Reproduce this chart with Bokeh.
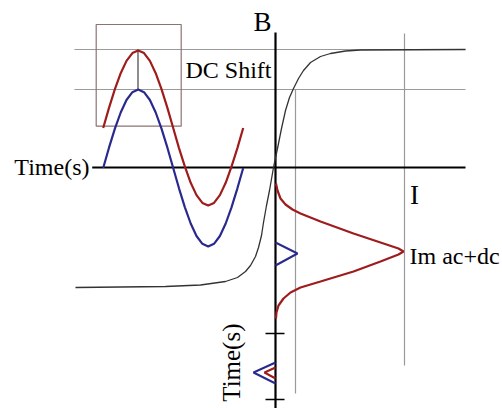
import math
from bokeh.plotting import figure
from bokeh.models import Range1d
from bokeh.core.properties import value
from bokeh.embed import file_html
from bokeh.resources import INLINE

# ---- data (units: diagram units, origin at the crossing of the Time and B axes) ----
# AC drive (blue) and AC+DC drive (red) versus time, left of the B axis
t_drive = [-172.3, -166.5, -160.6, -154.8, -149.0, -143.1, -137.3, -131.5, -125.6,
           -119.8, -114.0, -108.1, -102.3, -96.5, -90.6, -84.8, -79.0, -73.1,
           -67.3, -61.5, -55.6, -49.8, -44.0, -38.1, -32.3]
b_ac = [-0.5, 19.8, 38.8, 55.0, 67.5, 75.3, 78.0, 75.3, 67.5, 55.0, 38.8, 19.8,
        -0.5, -20.8, -39.8, -56.0, -68.5, -76.3, -79.0, -76.3, -68.5, -56.0,
        -39.8, -20.8, -0.5]
b_acdc = [39.5, 59.6, 78.3, 94.3, 106.6, 114.4, 117.0, 114.4, 106.6, 94.3, 78.3,
          59.6, 39.5, 19.4, 0.8, -15.3, -27.6, -35.4, -38.0, -35.4, -27.6, -15.3,
          0.8, 19.4, 39.5]

# B-I magnetisation curve
curve_i = [-200, -155, -110, -75, -50, -38, -30, -25, -20, -17, -14, -12, -9, -6,
           -2, 2, 6, 10, 14, 18, 23, 28, 35, 45, 55, 70, 85, 190]
curve_b = [-120, -119.5, -119, -117.5, -114, -110, -104, -98, -89, -80, -68, -55,
           -38, -23, 0, 19, 39, 57, 70, 79, 89, 97, 105, 111, 114, 116.5, 117.5, 118]

# Current response with AC+DC drive (red bell) vs time (downward)
im_acdc_i = [0.5, 2, 5, 10, 17, 25, 45, 78, 105, 123, 128, 123, 105, 78, 45, 25,
             15, 8, 3, 1, 0.5]
im_acdc_t = [-16, -23, -31, -37, -42, -46, -54, -66, -75, -81, -84, -87, -94, -104,
             -114, -120, -125, -131, -138, -145, -151]
# Current response with AC drive only (small blue peak)
im_ac_i = [0, 22, 0]
im_ac_t = [-75, -86, -98]

# Small pulses near the bottom of the time axis
pulse_ac_i = [0, -22, 0]
pulse_ac_t = [-195, -205, -216]
pulse_acdc_i = [0, -11, 0]
pulse_acdc_t = [-200, -205, -211]

# Levels / guides
b_levels = [118, 78]           # saturation level and AC peak level
i_guides = [20, 129]           # vertical guide positions
tick_t = [-166, -232]          # ticks on the vertical time axis

RED = "#9e1c1c"
BLUE = "#2a2a8e"
GRAY = "#9a9a9a"
FONT = value("Liberation Serif")

p = figure(width=502, height=408, output_backend="svg", toolbar_location=None,
           x_range=Range1d(-275, 227), y_range=Range1d(-241, 167),
           min_border=0, outline_line_color=None)
p.axis.visible = False
p.grid.visible = False
p.background_fill_color = "white"

# gray guide lines
p.segment(x0=[-201, -201], y0=b_levels, x1=[190, 190], y1=b_levels,
          line_color=GRAY, line_width=1.2)
p.segment(x0=i_guides, y0=[78, 134], x1=i_guides, y1=[-226, -198],
          line_color=GRAY, line_width=1.2)

# box around the peaks
p.quad(left=-179.3, right=-94.3, bottom=41.3, top=143, fill_color=None,
       line_color="#8d7272", line_width=1.2)

# DC shift connector
p.segment(x0=[-137.5], y0=[b_levels[1]], x1=[-137.5], y1=[b_levels[0]],
          line_color="#444444", line_width=1.2)

# axes
p.segment(x0=[-183.3], y0=[0], x1=[190], y1=[0], line_color="black", line_width=2.2)
p.segment(x0=[0], y0=[135], x1=[0], y1=[-245], line_color="black", line_width=2.2)
p.segment(x0=[-10] * len(tick_t), y0=tick_t, x1=[9] * len(tick_t), y1=tick_t,
          line_color="black", line_width=1.3)

# magnetisation curve
p.line(curve_i, curve_b, line_color="#333333", line_width=1.3)

# drive waveforms
p.line(t_drive, b_acdc, line_color=RED, line_width=2.2)
p.line(t_drive, b_ac, line_color=BLUE, line_width=2.2)

# responses
p.line(im_acdc_i, im_acdc_t, line_color=RED, line_width=2.2)
p.line(im_ac_i, im_ac_t, line_color=BLUE, line_width=2)
p.line(pulse_ac_i, pulse_ac_t, line_color=BLUE, line_width=2)
p.line(pulse_acdc_i, pulse_acdc_t, line_color=RED, line_width=2)

# labels
p.text(x=[-186], y=[1], text=["Time(s)"], text_font=FONT, text_font_size="24px",
       text_align="right", text_baseline="middle", text_color="black")
p.text(x=[-90], y=[98], text=["DC Shift"], text_font=FONT, text_font_size="24px",
       text_align="left", text_baseline="middle", text_color="black")
p.text(x=[-13], y=[146], text=["B"], text_font=FONT, text_font_size="27px",
       text_align="center", text_baseline="middle", text_color="black")
p.text(x=[139], y=[-27], text=["I"], text_font=FONT, text_font_size="27px",
       text_align="center", text_baseline="middle", text_color="black")
p.text(x=[134], y=[-88], text=["Im ac+dc"], text_font=FONT, text_font_size="24px",
       text_align="left", text_baseline="middle", text_color="black")
p.text(x=[-44], y=[-156], text=["Time(s)"], text_font=FONT, text_font_size="25px",
       text_align="right", text_baseline="middle", text_color="black",
       angle=math.pi / 2)

open("out.html", "w").write(file_html(p, INLINE))
